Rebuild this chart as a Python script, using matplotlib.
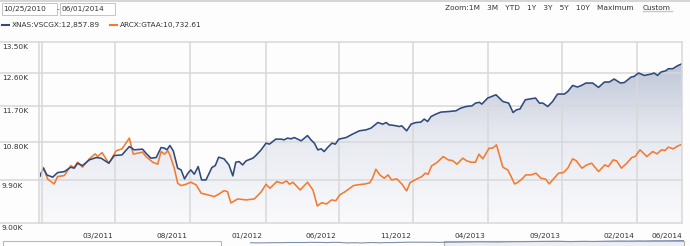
import numpy as np
import matplotlib
matplotlib.use('Agg')
import matplotlib.pyplot as plt
from matplotlib.lines import Line2D
from matplotlib.patches import Rectangle
from matplotlib.colors import LinearSegmentedColormap
from matplotlib.ticker import NullLocator
from matplotlib.transforms import blended_transform_factory, ScaledTranslation

W, H = 690, 246
start = np.datetime64('2010-10-25')
end = np.datetime64('2014-06-01')

# days since 10/25/2010 and growth of 10K
vscgx_day = [0, 7, 14, 26, 36, 50, 63, 70, 77, 87,
             101, 115, 125, 141, 152, 168, 183, 193, 210, 217,
             227, 238, 248, 255, 260, 266, 273, 282, 289, 296,
             303, 309, 316, 324, 331, 340, 352, 359, 366, 377,
             387, 395, 401, 408, 415, 422, 436, 442, 453, 463,
             470, 483, 494, 500, 507, 514, 521, 535, 548, 555,
             562, 569, 576, 582, 589, 598, 605, 612, 627, 640,
             654, 668, 678, 692, 702, 709, 715, 726, 736, 741,
             751, 760, 770, 780, 787, 794, 801, 811, 821, 838,
             852, 862, 873, 885, 892, 900, 905, 917, 934, 948,
             960, 969, 976, 983, 994, 1002, 1015, 1023, 1030, 1040,
             1050, 1060, 1074, 1081, 1091, 1101, 1110, 1118, 1132, 1144,
             1156, 1166, 1176, 1189, 1197, 1211, 1217, 1226, 1238, 1252,
             1258, 1265, 1272, 1282, 1287, 1296, 1306, 1315]
vscgx_val = [10000, 10176, 10024, 9973, 10076, 10099, 10199, 10176, 10290, 10235,
             10367, 10421, 10407, 10290, 10468, 10484, 10682, 10603, 10619, 10524,
             10407, 10421, 10658, 10643, 10603, 10706, 10579, 10176, 10137, 9935,
             10062, 10137, 10040, 10213, 9912, 9912, 10190, 10235, 10430, 10391,
             10251, 10002, 10313, 10327, 10251, 10344, 10407, 10468, 10603, 10763,
             10739, 10860, 10860, 10843, 10885, 10868, 10899, 10819, 10948, 10843,
             10763, 10603, 10627, 10562, 10658, 10763, 10739, 10860, 10899, 10982,
             11064, 11089, 11132, 11272, 11231, 11272, 11214, 11197, 11172, 11189,
             11064, 11231, 11272, 11282, 11359, 11297, 11425, 11487, 11538, 11554,
             11572, 11643, 11684, 11702, 11773, 11794, 11747, 11907, 11995, 11816,
             11773, 11528, 11598, 11617, 11861, 11880, 11907, 11773, 11773, 11684,
             11816, 12014, 12014, 12084, 12248, 12205, 12254, 12314, 12314, 12194,
             12342, 12342, 12426, 12314, 12330, 12482, 12498, 12594, 12526, 12566,
             12594, 12526, 12622, 12659, 12716, 12716, 12802, 12858]

gtaa_day = [0, 7, 16, 29, 36, 50, 63, 70, 77, 87,
            101, 113, 118, 127, 141, 156, 168, 183, 191, 210,
            217, 231, 241, 248, 255, 262, 266, 275, 282, 289,
            299, 309, 320, 330, 344, 357, 366, 377, 384, 391,
            405, 422, 439, 453, 463, 471, 485, 496, 505, 511,
            518, 533, 548, 559, 568, 577, 587, 597, 606, 614,
            625, 642, 649, 666, 675, 681, 688, 696, 705, 713,
            720, 731, 741, 751, 758, 772, 782, 789, 795, 802,
            813, 826, 836, 845, 854, 866, 874, 883, 892, 899,
            907, 920, 927, 935, 948, 958, 965, 972, 978, 989,
            995, 1006, 1016, 1026, 1036, 1043, 1053, 1062, 1072, 1081,
            1091, 1098, 1110, 1120, 1130, 1144, 1157, 1164, 1174, 1181,
            1191, 1202, 1212, 1219, 1229, 1243, 1255, 1264, 1273, 1280,
            1287, 1297, 1307, 1315]
gtaa_val = [10000, 10190, 9928, 9823, 9986, 10009, 10235, 10190, 10313, 10199,
            10391, 10508, 10445, 10538, 10290, 10579, 10627, 10885, 10501, 10548,
            10445, 10313, 10267, 10562, 10501, 10579, 10484, 10176, 9838, 9786,
            9816, 9861, 9801, 9621, 9585, 9548, 9600, 9677, 9655, 9413,
            9499, 9477, 9499, 9649, 9816, 9729, 9874, 9838, 9890, 9816,
            9861, 9692, 9861, 9692, 9350, 9419, 9392, 9477, 9462, 9585,
            9655, 9786, 9801, 9823, 9845, 9950, 10153, 10024, 9950, 10024,
            9912, 9935, 9823, 9671, 9852, 9935, 9986, 10062, 10040, 10228,
            10304, 10445, 10367, 10351, 10267, 10407, 10344, 10313, 10313, 10501,
            10391, 10643, 10643, 10722, 10199, 10137, 9986, 9823, 9852, 9950,
            10024, 10024, 10062, 9950, 9928, 9823, 9950, 10062, 10076, 10176,
            10391, 10351, 10176, 10251, 10290, 10099, 10251, 10213, 10367, 10344,
            10176, 10290, 10421, 10445, 10603, 10445, 10562, 10508, 10603, 10586,
            10667, 10627, 10698, 10733]

y_ticks = [9000, 9900, 10800, 11700, 12600, 13500]
y_labels = ['9.00K', '9.90K', '10.80K', '11.70K', '12.60K', '13.50K']
x_ticks = ['2011-03-01', '2011-08-01', '2012-01-01', '2012-06-01', '2012-11-01',
           '2013-04-01', '2013-09-01', '2014-02-01', '2014-06-01']
x_labels = ['03/2011', '08/2011', '01/2012', '06/2012', '11/2012',
            '04/2013', '09/2013', '02/2014', '06/2014']
grid_dates = ['2011-03-28', '2011-08-28', '2012-01-30', '2012-06-29',
              '2012-11-28', '2013-04-29', '2013-09-29', '2014-02-28']

BLUE = '#2f4a7c'
ORANGE = '#f47a2e'
GRID = '#d8d8d8'
TXT = '#333333'
FS = 5.3


def fx(px):
    return px / W


def fy(py):
    return 1 - py / H


vscgx_dates = start + np.array(vscgx_day).astype('timedelta64[D]')
gtaa_dates = start + np.array(gtaa_day).astype('timedelta64[D]')

fig = plt.figure(figsize=(W / 100, H / 100), dpi=100)
fig.patch.set_facecolor('#fdfdfd')
rect = [fx(40), fy(223), fx(682) - fx(40), fy(42) - fy(223)]

# gradient behind the blue series
bg = fig.add_axes(rect, zorder=0)
bg.set_xlim(0, 1)
bg.set_ylim(0, 1)
bg.axis('off')
cmap = LinearSegmentedColormap.from_list('fade', ['#fafafc', '#e6e9f0', '#b3bbcf'])
grad = np.linspace(0, 1, 256).reshape(-1, 1)
im = bg.imshow(grad, extent=[0, 1, 0, 1], aspect='auto', origin='lower', cmap=cmap)

ax = fig.add_axes(rect, zorder=1)
ax.set_facecolor('none')
ax.set_yscale('log')
ax.set_ylim(9000, 13500)
ax.set_xlim(start, end)
for s in ax.spines.values():
    s.set_visible(False)
ax.yaxis.set_major_locator(NullLocator())
ax.yaxis.set_minor_locator(NullLocator())
ax.xaxis.set_minor_locator(NullLocator())

area = ax.fill_between(vscgx_dates, 9000, vscgx_val, facecolor='none', edgecolor='none')
im.set_clip_path(area.get_paths()[0], transform=ax.transData)

# horizontal grid running out to the left edge, with labels under the lines
bt = blended_transform_factory(fig.transFigure, ax.transData)
for v, lab in zip(y_ticks, y_labels):
    ax.plot([0, fx(682)], [v, v], color=GRID, lw=1.1, transform=bt, clip_on=False, zorder=1)
    ax.annotate(lab, xy=(fx(2), v), xycoords=bt, xytext=(0, -1.6), textcoords='offset points',
                ha='left', va='top', fontsize=FS, color=TXT, annotation_clip=False)

for d in grid_dates:
    ax.axvline(np.datetime64(d), color=GRID, lw=1.1, zorder=1)

# left double rule and right border
for px in (39.3, 41.6, 682):
    fig.add_artist(Line2D([fx(px), fx(px)], [fy(42), fy(223)], color=GRID, lw=1.1))

ax.plot(gtaa_dates, gtaa_val, color=ORANGE, lw=1.15, zorder=3)
ax.plot(vscgx_dates, vscgx_val, color=BLUE, lw=1.15, zorder=4)

ax.set_xticks(np.array(x_ticks, dtype='datetime64[D]'))
ax.set_xticklabels(x_labels, fontsize=FS, color=TXT)
ax.tick_params(axis='x', length=0, pad=7)
shift = ScaledTranslation(-4.2 / 100, 0, fig.dpi_scale_trans)
tl = ax.get_xticklabels()
for lbl in tl[:-1]:
    lbl.set_transform(lbl.get_transform() + shift)
tl[-1].set_ha('right')

# header: top rule, date boxes, zoom links, legend
fig.add_artist(Line2D([0, 1], [fy(0.5), fy(0.5)], color='#cfcfcf', lw=1.2))
for x0, x1, t in ((2, 57, '10/25/2010'), (60, 115, '06/01/2014')):
    fig.add_artist(Rectangle((fx(x0), fy(15)), fx(x1) - fx(x0), fy(3.5) - fy(15),
                             facecolor='white', edgecolor='#c4c4c4', lw=0.7))
    fig.text(fx(x0 + 1.5), fy(9.5), t, fontsize=FS, color=TXT, va='center', ha='left')
fig.text(fx(58.4), fy(9.5), '-', fontsize=FS, color=TXT, va='center', ha='center')

fig.text(fx(634), fy(7.5), 'Zoom:1M   3M   YTD   1Y   3Y   5Y   10Y   Maximum',
         fontsize=FS, color=TXT, va='center', ha='right')
fig.text(fx(643), fy(7.5), 'Custom', fontsize=FS, color=TXT, va='center', ha='left')
fig.add_artist(Line2D([fx(643), fx(672)], [fy(11), fy(11)], color='#c8c8c8', lw=1.0))

fig.add_artist(Line2D([fx(2), fx(8.5)], [fy(24.5), fy(24.5)], color=BLUE, lw=1.5))
fig.text(fx(11.5), fy(24.5), 'XNAS:VSCGX:12,857.89', fontsize=FS, color=TXT, va='center')
fig.add_artist(Line2D([fx(110), fx(117)], [fy(24.5), fy(24.5)], color=ORANGE, lw=1.5))
fig.text(fx(120), fy(24.5), 'ARCX:GTAA:10,732.61', fontsize=FS, color=TXT, va='center')

# navigator strip at the bottom
fig.add_artist(Rectangle((fx(3.5), fy(247)), fx(221) - fx(3.5), fy(240.5) - fy(247),
                         facecolor='white', edgecolor='#b8b8b8', lw=0.8))
fig.add_artist(Rectangle((fx(444), fy(247)), fx(684) - fx(444), fy(240.5) - fy(247),
                         facecolor='#eceef3', edgecolor='#b0b0b0', lw=0.8))
nav = fig.add_axes([fx(250), fy(247), fx(684) - fx(250), fy(240) - fy(247)], zorder=2)
nav.axis('off')
nav.set_xlim(start, end)
nav.set_ylim(5000, 13500)
nav.plot(vscgx_dates, vscgx_val, color='#7f8fb0', lw=0.8)

fig.savefig('out.png', dpi=100, facecolor=fig.get_facecolor())
